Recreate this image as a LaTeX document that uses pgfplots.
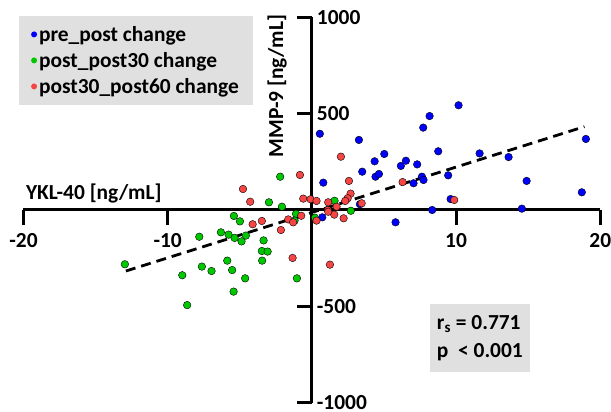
\documentclass[border=0pt]{standalone}
\usepackage{pgfplots}
\pgfplotsset{compat=1.18}
\usepackage{fontspec}
\setmainfont{Carlito}
\definecolor{cblue}{RGB}{0,0,255}
\definecolor{cgreen}{RGB}{0,200,0}
\definecolor{cred}{RGB}{245,69,69}
\definecolor{boxgray}{RGB}{224,224,224}
\begin{document}
\begin{tikzpicture}
\useasboundingbox (-23.5bp,-9.5bp) rectangle (587.5bp,402.5bp);
\begin{axis}[
  scale only axis,
  width=576.8bp, height=385bp,
  xmin=-20, xmax=20, ymin=-1000, ymax=1000,
  axis lines=middle,
  axis line style={line width=3bp, -},
  clip=false,
  xtick={-20,-10,10,20},
  xticklabels={-20,-10,10,20},
  ytick={-1000,-500,500,1000},
  yticklabels={-1000,-500,500,1000},
  tick align=center,
  major tick length=15bp,
  every tick/.style={line width=3bp, black},
  xtick style={yshift=-7.5bp},
  ytick style={xshift=-7.5bp},
  tick label style={font=\bfseries\fontsize{21.5}{21.5}\selectfont},
  xticklabel style={anchor=north, yshift=-12bp},
  yticklabel style={anchor=west, xshift=9bp},
  xlabel={YKL-40 [ng/mL]},
  ylabel={MMP-9 [ng/mL]},
  label style={font=\bfseries\fontsize{21.5}{21.5}\selectfont},
  xlabel style={at={(axis description cs:0.122,0.544)}, anchor=center},
  ylabel style={at={(axis description cs:0.4395,0.822)}, anchor=center, rotate=90},
  legend style={at={(axis description cs:-0.008,1.004)}, anchor=north west,
    fill=boxgray, draw=none, font=\bfseries\fontsize{21.5}{25}\selectfont,
    inner xsep=12bp, inner ysep=8bp, row sep=5.5bp},
  legend cell align=left,
  legend image code/.code={\fill[#1] (0bp,0bp) circle (3bp);},
]
\addplot[only marks, mark=*, mark size=3.8bp, draw=none, fill=cblue] coordinates {
(0.55,396) (3.26,364) (0.79,142) (3.49,199) (4.35,253) (5.02,291) (4.41,173) (4.65,187)
(6.17,229) (6.52,256) (7.30,237) (7.05,139) (7.63,173) (7.74,156) (7.72,428) (8.16,488)
(10.17,544) (8.76,305) (9.45,180) (9.62,57) (8.34,0) (5.80,-64) (0.72,-38) (3.33,30)
(11.63,294) (13.64,275) (14.89,151) (19.0,369) (18.72,92) (14.56,7)
};
\addlegendentry{pre\_post change}
\addplot[only marks, mark=*, mark size=3.8bp, draw=none, fill=cgreen] coordinates {
(-2.20,173) (-2.98,40) (-2.08,17) (-5.41,-31) (-4.99,-59) (-6.31,-116) (-5.78,-128)
(-5.36,-145) (-4.88,-163) (-4.58,-133) (-7.81,-139) (-3.35,-158) (-3.47,-213) (-3.07,-216)
(-3.45,-263) (-5.87,-263) (-7.63,-294) (-6.96,-317) (-5.53,-312) (-4.63,-355) (-8.99,-339)
(-5.43,-424) (-8.65,-494) (-12.97,-282) (-1.04,-355) (-1.1,-20) (1.57,48) (2.70,-4)
(0.21,-40) (-1.2,-55)
};
\addlegendentry{post\_post30 change}
\addplot[only marks, mark=*, mark size=3.8bp, draw=none, fill=cred] coordinates {
(2.01,277) (-0.83,182) (2.57,151) (-0.60,59) (-0.09,56) (0.32,47) (1.13,40) (2.68,85)
(2.48,61) (2.31,47) (3.45,35) (1.11,0) (1.71,17) (1.55,-24) (2.20,-43) (0.32,-55)
(-0.74,-30) (1.25,-284) (6.29,145) (9.87,52) (-4.78,109) (-4.28,43) (-4.11,-74)
(-3.47,-57) (-2.15,-104) (-1.64,-49) (-1.3,-64) (-1.34,-249) (1.13,-9)
};
\addlegendentry{post30\_post60 change}
\addplot[black, line width=2.8bp, dash pattern=on 10bp off 6bp, forget plot] coordinates {(-12.9,-317) (18.9,433)};
\node[fill=boxgray, minimum width=100bp, minimum height=68bp, align=left,
  font=\bfseries\fontsize{21.5}{28}\selectfont] at (axis cs:11.65,-665)
  {r\textsubscript{s} = 0.771\\p\ \ {<} 0.001};
\end{axis}
\end{tikzpicture}
\end{document}
